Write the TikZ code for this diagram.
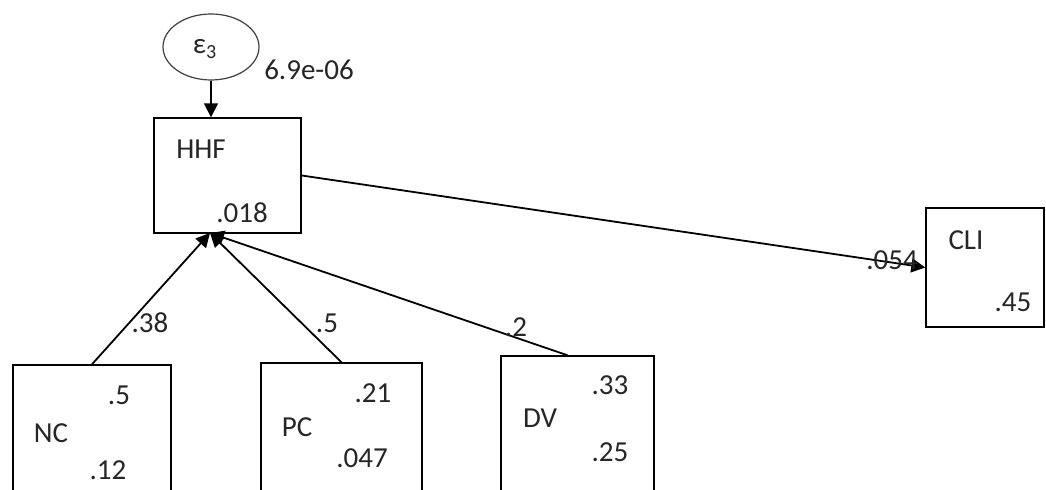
\documentclass[tikz,border=0pt]{standalone}
\usepackage{fontspec}
\setmainfont{Carlito}
\usetikzlibrary{arrows.meta,shapes.geometric}

\tikzset{
  varbox/.style 2 args={draw, line width=0.7pt, minimum width=#1, minimum height=#2, inner sep=0pt},
  arr/.style={line width=0.9pt, -{Triangle[length=7pt,width=7pt]}},
  lbl/.style={inner sep=0pt, text=black!85}
}

\begin{document}
\begin{tikzpicture}[x=0.5pt, y=-0.5pt, font=\fontsize{14.5}{17}\selectfont]
  \clip (0,0) rectangle (1046,490);
  \fill[white] (0,0) rectangle (1046,490);
  % error term and boxes
  \node[draw, black!75, line width=0.6pt, ellipse, minimum width=48pt, minimum height=33pt] (eps) at (211,47) {};
  \node[varbox={73.5pt}{57.5pt}] (HHF) at (227.5,175.5) {};
  \node[varbox={59pt}{59.5pt}] (CLI) at (985,267.5) {};
  \node[varbox={79pt}{77.5pt}] (NC) at (92,442.5) {};
  \node[varbox={80.5pt}{78.5pt}] (PC) at (341.5,441.5) {};
  \node[varbox={76.5pt}{82pt}] (DV) at (577.5,438) {};
  \coordinate (hhfin) at (210,233);

  % texts
  \node[lbl] (epsname) at (205,49) {ε\textsubscript{\fontsize{10}{12}\selectfont 3}};
  \node[lbl] (epsvar) at (309,70) {6.9e-06};
  \node[lbl] (hhfname) at (201,149) {HHF};
  \node[lbl] (hhfvar) at (242,213) {.018};
  \node[lbl] (cliname) at (966,240) {CLI};
  \node[lbl] (clivar) at (1013,302) {.45};
  \node[lbl] (ncname) at (51,433) {NC};
  \node[lbl] (ncmean) at (119,395) {.5};
  \node[lbl] (ncvar) at (108,470) {.12};
  \node[lbl] (pcname) at (297,427) {PC};
  \node[lbl] (pcmean) at (373,393) {.21};
  \node[lbl] (pcvar) at (362,458) {.047};
  \node[lbl] (dvname) at (540,418) {DV};
  \node[lbl] (dvmean) at (610,385) {.33};
  \node[lbl] (dvvar) at (610,452) {.25};

  % paths
  \draw[arr] (eps.south) -- (eps.south |- HHF.north);
  \draw[arr] (NC.north) -- (hhfin);
  \draw[arr] (PC.north) -- (hhfin);
  \draw[arr] ([xshift=-5pt]DV.north) -- (hhfin);
  \draw[arr] (HHF.east) -- (CLI.west);
  \node[lbl] (ncpath) at (150,323) {.38};
  \node[lbl] (pcpath) at (327,323) {.5};
  \node[lbl] (dvpath) at (516,327) {.2};
  \node[lbl] (hhfpath) at (892,260) {.054};
\end{tikzpicture}
\end{document}
